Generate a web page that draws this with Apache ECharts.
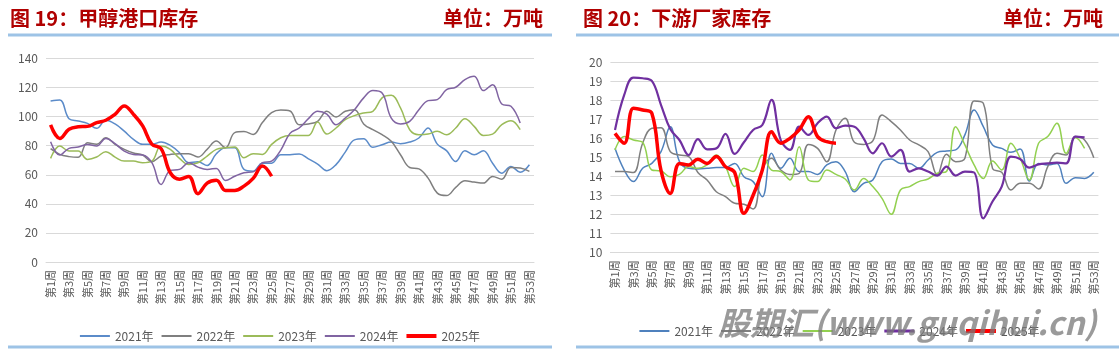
<!DOCTYPE html>
<html><head><meta charset="utf-8">
<script src="https://cdn.jsdelivr.net/npm/echarts@6/dist/echarts.min.js"></script>
<style>
html,body{margin:0;padding:0;background:#fff;}
#c1{position:absolute;left:0;top:0;width:560px;height:357px;}
#c2{position:absolute;left:560px;top:0;width:559px;height:357px;}
</style></head>
<body>
<div id="c1"></div><div id="c2"></div>
<script>
const weeks = [];
for (let i = 1; i <= 53; i++) weeks.push('第' + i + '周');
const seriesNames = ['2021年', '2022年', '2023年', '2024年', '2025年'];

// 图19 甲醇港口库存 (万吨)
const port2021 = [110.8,111.5,98.6,97,95.4,92,97.5,95,90,84.4,81,81,82.5,80.2,75.2,68.3,69,66.4,74.5,78.6,78.6,63.7,62.5,68,68,73.8,73.8,74.3,71,67.4,62.8,67,75.6,84,84.8,78.9,80.7,82.5,81.4,82.5,85.3,92.2,81.1,76.6,69.2,76.6,73.8,76.6,68,61.1,65.7,61.8,66.9];
const port2022 = [78,74,72.5,72,82,81,85.5,81,77.5,75,73.6,69,72.9,74,74.5,74.5,72.2,77.5,83.2,78.6,89,89.7,87.8,95.9,102.8,104.6,103.9,94.5,95,96.8,103.7,99.8,103.7,104.8,95,91,87.6,83,73.8,65,64.1,57.7,47.4,45.7,51.3,55.9,55,54.3,58.9,57,65,64.6,62.3];
const port2023 = [71.3,79.8,76.3,76.3,70.6,72.2,75.9,72.2,69.4,69.4,68.3,69.4,79.8,77.5,71.3,67.1,68.3,72.9,77.5,78.6,79.1,71.7,74.5,74,80.9,85.5,87.1,87.1,87.1,96.3,88,92.2,97.9,100.7,102.5,103.7,112.9,114.7,106,91,87.6,88,89.9,87.6,92.2,98.6,93.3,87.1,88,94.5,97.2,91,null];
const port2024 = [82.8,73.6,78.2,79.1,80.9,79.8,85,81.4,76.3,74,73.6,68.3,53.3,63,63.7,68.3,65.3,63.7,64.4,56.1,59,61.4,62,68.3,69.4,77,88.5,92.2,98.6,103.7,101.8,94.5,99,104.8,112.9,117.9,116.3,99,95,96.8,104.8,111,111.7,118.6,120.2,125.5,127.8,117.9,122,108.7,107.1,95.6,null];
const port2025 = [94.3,85,91.3,93,93.3,95.9,97.5,101.6,107.4,101.6,93.6,81,78,61.4,57,58.9,47,54.3,56.3,49.2,49.2,52.2,57.5,66,59];

// 图20 下游厂家库存 (万吨)
const down2021 = [15.47,14.33,13.72,14.42,14.68,15.3,16.61,14.77,14.42,14.39,14.42,14.46,14.46,14.68,13.98,13.72,12.93,15.21,14.42,14.95,14.25,14.25,14.1,14.6,14.77,14.25,13.19,13.63,13.81,14.77,14.91,14.68,14.68,14.42,14.86,15.26,15.33,15.39,16.18,17.49,16.61,15.65,15.47,15.26,15.44,13.75,14.68,14.6,14.68,13.63,13.93,13.89,14.21];
const down2022 = [14.25,14.25,14.2,15.74,16.53,16.56,15.3,15.12,15.04,14.2,13.81,13.19,12.93,12.58,12.53,12.28,14.33,14.95,14.33,14.1,14.16,15.68,15.47,14.77,16.44,17.05,15.79,15.68,15.86,17.23,16.88,16.44,15.91,15.65,15.3,14.07,15.16,14.77,14.95,17.96,17.84,14.42,14.21,13.28,13.63,13.63,13.33,14.51,15.21,15.12,16.09,15.91,14.98];
const down2023 = [15.39,16.09,15.91,15.79,14.33,14.28,13.98,14.1,14.51,14.42,14.6,15.12,14.51,13.46,14.42,14.25,15.12,14.33,14.25,13.81,15.56,13.81,13.72,14.33,14.1,13.86,13.28,13.89,13.46,12.84,12.0,13.28,13.46,13.72,13.86,14.16,14.25,16.61,15.65,14.6,13.89,14.81,14.33,15.74,14.95,13.81,15.74,16.09,16.79,15.21,16.04,15.47,null];
const down2024 = [16.44,18.28,19.19,19.16,19.02,17.75,16.49,15.91,15.12,15.96,15.42,15.47,16.23,15.18,15.79,16.44,16.7,18.02,15.91,15.39,16.61,16.18,16.79,17.14,16.53,16.67,16.61,16.0,15.21,15.74,15.04,15.39,14.25,14.42,14.25,14.04,14.51,14.04,14.25,14.2,11.79,12.67,13.46,15.04,14.91,14.46,14.63,14.68,14.72,14.68,16.09,16.05,null];
const down2025 = [16.26,15.74,17.58,17.49,17.32,14.3,13.1,14.68,14.6,14.9,14.68,15.04,14.5,14.2,12.05,13.0,14.33,16.35,15.74,16.0,16.44,17.14,16.09,15.82,15.74];

const FONT = '"Noto Sans CJK SC", "Liberation Sans", sans-serif';
const TXT = '#595959';
const TITLE_RED = '#B00000';
const RULE = '#9DC3E6';

function build(cfg) {
  const series = cfg.data.map((d, i) => ({
    name: seriesNames[i], type: 'line', data: d, smooth: 0.4,
    symbol: 'none', connectNulls: false,
    lineStyle: { color: cfg.colors[i], width: cfg.widths[i] },
    itemStyle: { color: cfg.colors[i] },
    z: i === 4 ? 10 : 2 + i
  }));
  const legendData = seriesNames.map((n, i) => ({
    name: n,
    icon: 'path://M0,0H30V' + cfg.legendThick[i] + 'H0Z'
  }));
  return {
    animation: false,
    backgroundColor: '#fff',
    textStyle: { fontFamily: FONT },
    title: [
      { text: cfg.title, left: cfg.titleLeft, top: 3,
        textStyle: { color: TITLE_RED, fontSize: 20, fontWeight: 'bold', fontFamily: FONT } },
      { text: '单位：万吨', right: cfg.unitRight, top: 3,
        textStyle: { color: TITLE_RED, fontSize: 20, fontWeight: 'bold', fontFamily: FONT } }
    ],
    graphic: cfg.graphic,
    legend: {
      data: legendData, left: 'center', top: cfg.legendTop,
      itemWidth: 30, itemHeight: 10, itemGap: 8, symbolKeepAspect: true,
      textStyle: { color: TXT, fontSize: 12, fontFamily: FONT }
    },
    grid: { left: cfg.gridLeft, top: cfg.gridTop, width: 488, height: cfg.gridHeight },
    xAxis: {
      type: 'category', data: weeks, boundaryGap: true,
      axisLine: { lineStyle: { color: '#D9D9D9' } },
      axisTick: { show: false },
      axisLabel: { interval: 1, rotate: 90, color: TXT, fontSize: 11, margin: 8, fontFamily: FONT }
    },
    yAxis: {
      type: 'value', min: cfg.yMin, max: cfg.yMax, interval: cfg.yInt,
      axisLine: { show: false }, axisTick: { show: false },
      axisLabel: { color: TXT, fontSize: 12, margin: 8, fontFamily: FONT },
      splitLine: { lineStyle: { color: '#D9D9D9', width: 1 } }
    },
    series: series
  };
}

const c1 = echarts.init(document.getElementById('c1'));
c1.setOption(build({
  title: '图 19：甲醇港口库存', titleLeft: 5, unitRight: 12,
  data: [port2021, port2022, port2023, port2024, port2025],
  colors: ['#5B8BC9', '#7F7F7F', '#9BBB59', '#8064A2', '#FF0000'],
  widths: [1.5, 1.5, 1.5, 1.5, 3.5],
  legendThick: [2, 2, 2, 2, 4],
  gridLeft: 46, gridTop: 58.5, gridHeight: 203.5,
  yMin: 0, yMax: 140, yInt: 20, legendTop: 325,
  graphic: [
    { type: 'rect', shape: { x: 8, y: 33.5, width: 544, height: 3 }, style: { fill: RULE } },
    { type: 'rect', shape: { x: 8, y: 345.5, width: 544, height: 3 }, style: { fill: RULE } }
  ]
}));

const c2 = echarts.init(document.getElementById('c2'));
c2.setOption(build({
  title: '图 20：下游厂家库存', titleLeft: 18, unitRight: 11,
  data: [down2021, down2022, down2023, down2024, down2025],
  colors: ['#4F81BD', '#7F7F7F', '#92D050', '#7030A0', '#FF0000'],
  widths: [1.5, 1.5, 1.5, 2.2, 3.5],
  legendThick: [2, 2, 2, 3, 4],
  gridLeft: 50.4, gridTop: 62.3, gridHeight: 190,
  yMin: 10, yMax: 20, yInt: 1, legendTop: 320,
  graphic: [
    { type: 'rect', shape: { x: 16, y: 33.5, width: 543, height: 3 }, style: { fill: RULE } },
    { type: 'rect', shape: { x: 16, y: 345.5, width: 543, height: 3 }, style: { fill: RULE } },
    { type: 'text', left: 158, top: 307, z: 100,
      style: { text: '股期汇(www.guqihui.cn)', fill: 'rgba(120,120,120,0.75)',
        font: 'italic bold 32px "Noto Sans CJK SC", "DejaVu Sans", sans-serif' } }
  ]
}));
</script>
</body></html>
